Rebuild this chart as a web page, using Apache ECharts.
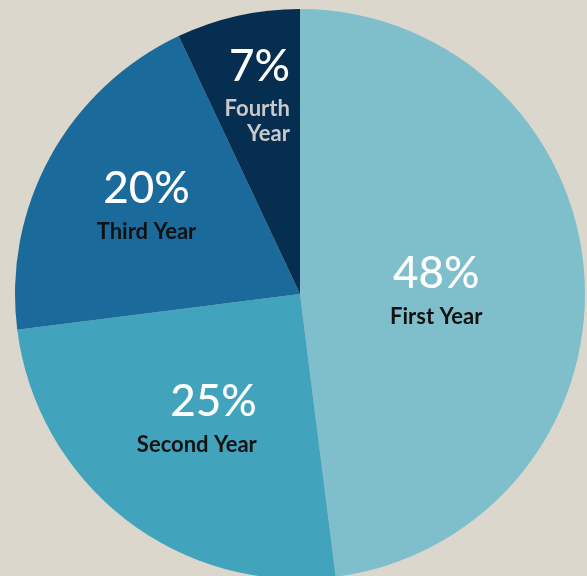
<!DOCTYPE html>
<html><head><meta charset="utf-8">
<script src="https://cdn.jsdelivr.net/npm/echarts@6/dist/echarts.min.js"></script>
<style>html,body{margin:0;padding:0;background:#dbd7cd;}#c{width:587px;height:576px;}</style>
</head><body><div id="c"></div>
<script>
const categories = ['First Year', 'Second Year', 'Third Year', 'Fourth Year'];
const values = [48, 25, 20, 7];
const nameLines = ['First Year', 'Second Year', 'Third Year', 'Fourth\nYear'];

const colors = ['#7fbfcc', '#42a4bc', '#1a6a9b', '#062e50'];
const rightAligned = [false, true, false, true];
const nameStyle = ['n', 'n', 'n', 'g'];
const offsets = [[-9, 3], [-14, 7], [-26, -21], [-11, -60]];

function fmt(i) {
  const suf = rightAligned[i] ? 'r' : '';
  const lines = ['{p' + suf + '|' + values[i] + '%}'];
  nameLines[i].split('\n').forEach(s => lines.push('{' + nameStyle[i] + suf + '|' + s + '}'));
  return lines.join('\n');
}

const P = {fontFamily: 'Lato', fontSize: 44, fontWeight: 500, color: '#ffffff', lineHeight: 58};
const N = {fontFamily: 'Lato', fontSize: 22, fontWeight: 'bold', color: '#111111', lineHeight: 28};
const G = {fontFamily: 'Lato', fontSize: 22, fontWeight: 'bold', color: '#c9c9c9', lineHeight: 25};

const chart = echarts.init(document.getElementById('c'), null, {renderer: 'canvas'});
chart.setOption({
  backgroundColor: '#dbd7cd',
  animation: false,
  series: [{
    type: 'pie',
    center: [300, 294],
    radius: [0, 285],
    startAngle: 90,
    clockwise: true,
    avoidLabelOverlap: false,
    data: categories.map((c, i) => ({
      name: c,
      value: values[i],
      itemStyle: {color: colors[i]},
      label: {formatter: fmt(i)}
    })),
    itemStyle: {borderWidth: 0},
    labelLine: {show: false},
    label: {
      show: true,
      position: 'inside',
      fontFamily: 'Lato',
      rich: {
        p: P, n: N, g: G,
        pr: Object.assign({}, P, {align: 'right'}),
        nr: Object.assign({}, N, {align: 'right'}),
        gr: Object.assign({}, G, {align: 'right'})
      }
    },
    labelLayout: function (params) {
      const o = offsets[params.dataIndex];
      return {dx: o[0], dy: o[1]};
    }
  }]
});
</script></body></html>
